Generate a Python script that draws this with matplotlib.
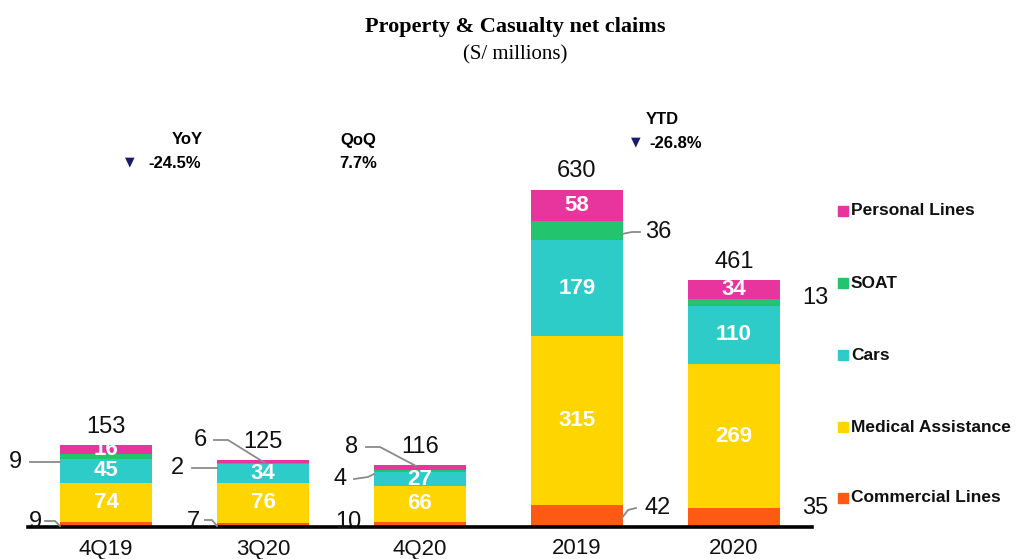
import matplotlib.pyplot as plt
from matplotlib import font_manager

# Net claims by line of business (S/ millions)
periods = ['4Q19', '3Q20', '4Q20', '2019', '2020']
commercial = [9, 7, 10, 42, 35]
medical = [74, 76, 66, 315, 269]
cars = [45, 34, 27, 179, 110]
soat = [9, 2, 4, 36, 13]
personal = [16, 6, 8, 58, 34]
totals = [153, 125, 116, 630, 461]

series_names = ['Commercial Lines', 'Medical Assistance', 'Cars', 'SOAT', 'Personal Lines']
series_vals = [commercial, medical, cars, soat, personal]
colors = ['#FF5A14', '#FFD500', '#2ECCC8', '#22C46E', '#E8359E']

W, H = 1021, 559
BASE_Y = 527      # pixel row of the zero line
PX_PER_UNIT = 0.535
STEP = 157        # pixels between bar centres
X0 = 106          # pixel x of first bar centre

names = {f.name for f in font_manager.fontManager.ttflist}
narrow = 'Liberation Sans Narrow' if 'Liberation Sans Narrow' in names else 'Liberation Sans'
plt.rcParams['font.family'] = [narrow, 'DejaVu Sans']

fig = plt.figure(figsize=(W / 100, H / 100), dpi=100)
ax = fig.add_axes([0, 0, 1, 1])
ax.set_xlim(-X0 / STEP, (W - X0) / STEP)
ax.set_ylim(-(H - BASE_Y) / PX_PER_UNIT, BASE_Y / PX_PER_UNIT)
ax.axis('off')


def fpx(x, y):
    # pixel position -> figure fraction
    return x / W, 1 - y / H


# stacked bars
bar_w = 0.586
xs = list(range(len(periods)))
bottoms = [0] * len(periods)
seg_mid = {}
for name, vals, c in zip(series_names, series_vals, colors):
    ax.bar(xs, vals, bottom=bottoms, width=bar_w, color=c, linewidth=0, zorder=2)
    seg_mid[name] = [b + v / 2 for b, v in zip(bottoms, vals)]
    bottoms = [b + v for b, v in zip(bottoms, vals)]

# zero line
ax.axhline(0, xmin=28 / W, xmax=812 / W, color='black', lw=2.6, zorder=3)

# white labels inside the larger segments
inside = {'Medical Assistance': [0, 1, 2, 3, 4], 'Cars': [0, 1, 2, 3, 4],
          'Personal Lines': [0, 3, 4]}
for name, idx in inside.items():
    vals = series_vals[series_names.index(name)]
    for i in idx:
        ax.text(i, seg_mid[name][i], str(vals[i]), ha='center', va='center',
                color='white', fontsize=16, fontweight='bold', zorder=4)

# totals above the bars
for i, t in enumerate(totals):
    ax.text(i, bottoms[i] + 14, str(t), ha='center', va='bottom',
            fontsize=17, color='#111111')

# small segments labelled at the side: (bar, series, label px pos, leader path in px)
side = [
    (0, 'SOAT', (15, 462), [(30, 462), (60, 462)]),
    (0, 'Commercial Lines', (35, 522), [(45, 521), (55, 521), (60, 526)]),
    (1, 'Personal Lines', (200, 440), [(214, 440), (228, 440), (265, 463)]),
    (1, 'SOAT', (177, 468), [(192, 468), (217, 468)]),
    (1, 'Commercial Lines', (193, 522), [(205, 520), (212, 520), (217, 526)]),
    (2, 'Personal Lines', (352, 447), [(366, 447), (380, 447), (416, 466)]),
    (2, 'SOAT', (340, 479), [(354, 479), (368, 477), (374, 474)]),
    (2, 'Commercial Lines', (348, 522), None),
    (3, 'SOAT', (658, 232), [(622, 234), (632, 232), (640, 232)]),
    (3, 'Commercial Lines', (658, 508), [(622, 518), (628, 510), (636, 508)]),
    (4, 'SOAT', (815, 298), None),
    (4, 'Commercial Lines', (815, 508), None),
]
for i, name, (lx, ly), path in side:
    val = series_vals[series_names.index(name)][i]
    fx, fy = fpx(lx, ly)
    fig.text(fx, fy, str(val), ha='center', va='center', fontsize=17, color='#111111')
    if path:
        pts = [fpx(px, py) for px, py in path]
        fig.add_artist(plt.Line2D([p[0] for p in pts], [p[1] for p in pts],
                                  transform=fig.transFigure, color='#8a8a8a', lw=1.3))

# category labels
for i, p in enumerate(periods):
    fx, _ = fpx(X0 + STEP * i, 0)
    fig.text(fx, 1 - 549 / H, p, ha='center', va='center', fontsize=16, color='#111111')

# title
fig.text(*fpx(515, 27), 'Property & Casualty net claims', ha='center', va='center',
         fontsize=16, fontweight='bold', family='Liberation Serif')
fig.text(*fpx(515, 55), '(S/ millions)', ha='center', va='center',
         fontsize=15, family='Liberation Serif')

# growth call-outs
navy = '#1B1B6B'
fig.text(*fpx(187, 140), 'YoY', ha='center', va='center', fontsize=12, fontweight='bold')
fig.text(*fpx(130, 162), '\u25bc', ha='center', va='center', fontsize=9, color=navy,
         family='DejaVu Sans')
fig.text(*fpx(148, 163), '-24.5%', ha='left', va='center', fontsize=12, fontweight='bold')
fig.text(*fpx(358, 140), 'QoQ', ha='center', va='center', fontsize=12, fontweight='bold')
fig.text(*fpx(358, 163), '7.7%', ha='center', va='center', fontsize=12, fontweight='bold')
fig.text(*fpx(662, 119), 'YTD', ha='center', va='center', fontsize=12, fontweight='bold')
fig.text(*fpx(636, 142), '\u25bc', ha='center', va='center', fontsize=9, color=navy,
         family='DejaVu Sans')
fig.text(*fpx(649, 143), '-26.8%', ha='left', va='center', fontsize=12, fontweight='bold')

# legend, top entry first
leg_rows = [211, 283, 355, 427, 498]
for row, name, c in zip(leg_rows, series_names[::-1], colors[::-1]):
    fig.patches.append(plt.Rectangle(fpx(838, row + 5), 10 / W, 10 / H,
                                     transform=fig.transFigure, color=c))
    fig.text(*fpx(851, row), name, ha='left', va='center', fontsize=12.5,
             fontweight='bold', color='#111111')

fig.savefig('out.png', dpi=100)
